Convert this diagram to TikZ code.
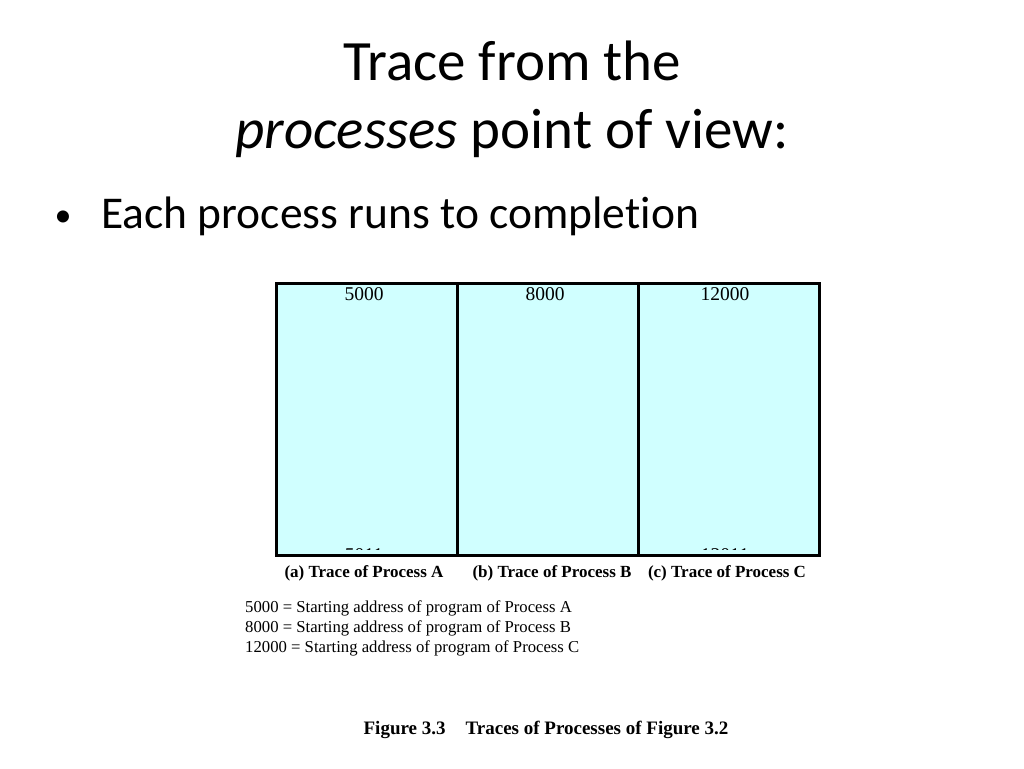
\documentclass[tikz,border=0pt]{standalone}
\usepackage{fontspec}
\setmainfont{Liberation Serif}
\newfontfamily\slidefont[Ligatures=NoCommon]{Carlito}
\definecolor{boxfill}{HTML}{D0FFFF}
\begin{document}
\begin{tikzpicture}[x=1pt,y=-1pt,
  title/.style={font=\slidefont\fontsize{57}{64}\selectfont, inner sep=0pt, anchor=base},
  col/.style={draw=black, line width=3pt, fill=boxfill},
  addr/.style={font=\fontsize{19.5}{21}\selectfont, inner sep=0pt, anchor=base},
  capt/.style={font=\bfseries\fontsize{17}{19}\selectfont, inner sep=0pt, anchor=base},
  legend/.style={font=\fontsize{16.7}{18}\selectfont, inner sep=0pt, anchor=base west}]
\useasboundingbox (0,0) rectangle (1024,768);
\node[title] (t1) at (512,81) {Trace from the};
\node[title] (t2) at (512,148) {\textit{processes} point of view:};
\node[font=\slidefont\fontsize{34}{40}\selectfont, inner sep=0pt, anchor=base] (bul) at (63,226) {•};
\node[font=\slidefont\fontsize{45.5}{50}\selectfont, inner sep=0pt, anchor=base west] (b1) at (101,228) {Each process runs to completion};
% columns
\node[col, minimum width=181pt, minimum height=272pt, anchor=north west, inner sep=0pt] (ca) at (275,282) {};
\node[col, minimum width=181pt, minimum height=272pt, anchor=north west, inner sep=0pt] (cb) at (456,282) {};
\node[col, minimum width=181pt, minimum height=272pt, anchor=north west, inner sep=0pt] (cc) at (637,282) {};
\node[addr] (a1) at (364,300) {5000};
\node[addr] (b1a) at (545,300) {8000};
\node[addr] (c1) at (725,300) {12000};
\begin{scope}
\clip (280,540) rectangle (810,549.5);
\node[addr] (a2) at (364,561) {5011};
\node[addr] (c2) at (725,561) {12011};
\end{scope}
\node[capt] (la) at (364,577) {(a) Trace of Process A};
\node[capt] (lb) at (552,577) {(b) Trace of Process B};
\node[capt] (lc) at (727,577) {(c) Trace of Process C};
\node[legend] (l1) at (245,612) {5000 = Starting address of program of Process A};
\node[legend] (l2) at (245,632) {8000 = Starting address of program of Process B};
\node[legend] (l3) at (245,652) {12000 = Starting address of program of Process C};
\node[font=\bfseries\fontsize{19}{21}\selectfont, inner sep=0pt, anchor=base] (fig) at (546,734) {Figure 3.3\hspace{20pt}Traces of Processes of Figure 3.2};
\end{tikzpicture}
\end{document}
